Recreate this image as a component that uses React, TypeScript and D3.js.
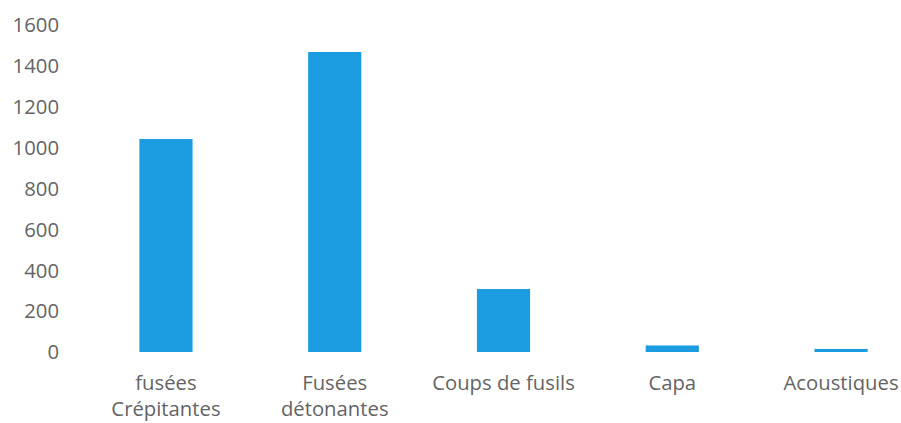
import { useRef, useEffect } from 'react';
import * as d3 from 'd3';

const CATEGORIES = [
  ['fusées', 'Crépitantes'],
  ['Fusées', 'détonantes'],
  ['Coups de fusils'],
  ['Capa'],
  ['Acoustiques'],
];
const VALUES = [1042, 1468, 308, 32, 15];
const Y_TICKS = [0, 200, 400, 600, 800, 1000, 1200, 1400, 1600];

const W = 901;
const H = 423;

export default function App() {
  const svgRef = useRef<SVGSVGElement>(null);

  useEffect(() => {
    const svg = d3.select(svgRef.current);
    svg.selectAll('*').remove();

    const y = d3.scaleLinear().domain([0, 1600]).range([352, 25]);
    const x = d3
      .scaleBand()
      .domain(CATEGORIES.map((_, i) => String(i)))
      .range([82, 925])
      .paddingInner(0.685)
      .paddingOuter(0.34);

    const font = '"Open Sans", sans-serif';

    // y tick labels
    svg
      .append('g')
      .selectAll('text')
      .data(Y_TICKS)
      .join('text')
      .attr('x', 59)
      .attr('y', (d) => y(d))
      .attr('dy', '0.36em')
      .attr('text-anchor', 'end')
      .attr('font-family', font)
      .attr('font-size', 20.3)
      .attr('fill', '#646464')
      .text((d) => d);

    // bars
    svg
      .append('g')
      .selectAll('rect')
      .data(VALUES)
      .join('rect')
      .attr('x', (_, i) => x(String(i))!)
      .attr('width', x.bandwidth())
      .attr('y', (d) => y(d))
      .attr('height', (d) => y(0) - y(d))
      .attr('fill', '#1b9be0');

    // category labels
    const labels = svg
      .append('g')
      .selectAll('text')
      .data(CATEGORIES)
      .join('text')
      .attr('x', (_, i) => x(String(i))! + x.bandwidth() / 2)
      .attr('y', 383)
      .attr('text-anchor', 'middle')
      .attr('font-family', font)
      .attr('font-size', 20.3)
      .attr('fill', '#646464');

    labels
      .selectAll('tspan')
      .data((d) => d)
      .join('tspan')
      .attr('x', function () {
        return (this.parentNode as SVGTextElement).getAttribute('x');
      })
      .attr('dy', (_, j) => (j === 0 ? '0.36em' : 26))
      .text((d) => d);
  }, []);

  return (
    <svg
      ref={svgRef}
      width={W}
      height={H}
      style={{ position: 'absolute', left: 0, top: 0, background: '#fff' }}
    />
  );
}
